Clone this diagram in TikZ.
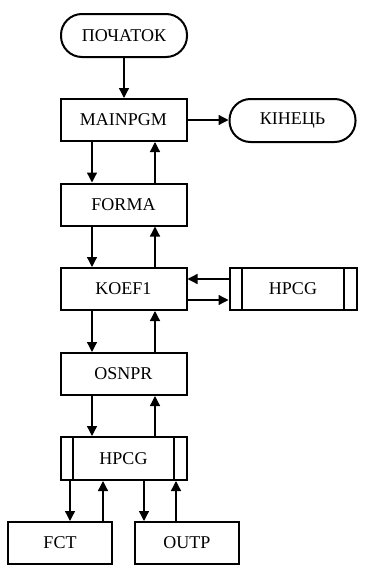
\documentclass[tikz,border=0pt]{standalone}
\usepackage{fontspec}
\setmainfont{Liberation Serif}
\usetikzlibrary{arrows.meta}
\begin{document}
\begin{tikzpicture}[x=1pt,y=-1pt,
  box/.style={draw,line width=2pt,minimum width=126pt,minimum height=42pt,inner sep=0pt,
    font=\fontsize{18}{20}\selectfont},
  term/.style={box,rounded corners=21pt,minimum height=43pt},
  sub/.style={box,path picture={
     \draw[line width=2pt] ([xshift=12.5pt]path picture bounding box.north west) -- ([xshift=12.5pt]path picture bounding box.south west);
     \draw[line width=2pt] ([xshift=-12.5pt]path picture bounding box.north east) -- ([xshift=-12.5pt]path picture bounding box.south east);}},
  small/.style={box,minimum width=104pt},
  arr/.style={-{Triangle[length=10pt,width=10pt]},line width=1.3pt}]
\useasboundingbox (0,0) rectangle (366,573);

\node[term] (start) at (124,35.5) {ПОЧАТОК};
\node[box] (main) at (123.5,120) {MAINPGM};
\node[term] (end) at (292.5,120.5) {КІНЕЦЬ};
\node[box] (forma) at (123.5,204.5) {FORMA};
\node[box] (koef) at (123.5,289) {KOEF1};
\node[sub,minimum width=127pt] (hpcga) at (293,289) {HPCG};
\node[box] (osnpr) at (123.5,374) {OSNPR};
\node[sub,minimum height=43pt] (hpcgb) at (123.5,458.5) {HPCG};
\node[small] (fct) at (60,543) {FCT};
\node[small] (outp) at (187,543) {OUTP};

\draw[arr] (start.south) -- (start.south |- main.north);
\draw[arr] (main.east) -- (main.east -| end.west);

\draw[arr] ([xshift=-31.5pt]main.south) -- ([xshift=-31.5pt]forma.north);
\draw[arr] ([xshift=31.5pt]forma.north) -- ([xshift=31.5pt]main.south);
\draw[arr] ([xshift=-31.5pt]forma.south) -- ([xshift=-31.5pt]koef.north);
\draw[arr] ([xshift=31.5pt]koef.north) -- ([xshift=31.5pt]forma.south);
\draw[arr] ([xshift=-31.5pt]koef.south) -- ([xshift=-31.5pt]osnpr.north);
\draw[arr] ([xshift=31.5pt]osnpr.north) -- ([xshift=31.5pt]koef.south);
\draw[arr] ([xshift=-31.5pt]osnpr.south) -- ([xshift=-31.5pt]hpcgb.north);
\draw[arr] ([xshift=31.5pt]hpcgb.north) -- ([xshift=31.5pt]osnpr.south);

\draw[arr] ([yshift=10pt]hpcga.west) -- ([yshift=10pt]koef.east);
\draw[arr] ([yshift=-11pt]koef.east) -- ([yshift=-11pt]hpcga.west);

\coordinate (d1) at ([xshift=-53.5pt]hpcgb.south);
\coordinate (u1) at ([xshift=-20.5pt]hpcgb.south);
\coordinate (d2) at ([xshift=20.5pt]hpcgb.south);
\coordinate (u2) at ([xshift=52.5pt]hpcgb.south);
\draw[arr] (d1) -- (d1 |- fct.north);
\draw[arr] (u1 |- fct.north) -- (u1);
\draw[arr] (d2) -- (d2 |- outp.north);
\draw[arr] (u2 |- outp.north) -- (u2);
\end{tikzpicture}
\end{document}
